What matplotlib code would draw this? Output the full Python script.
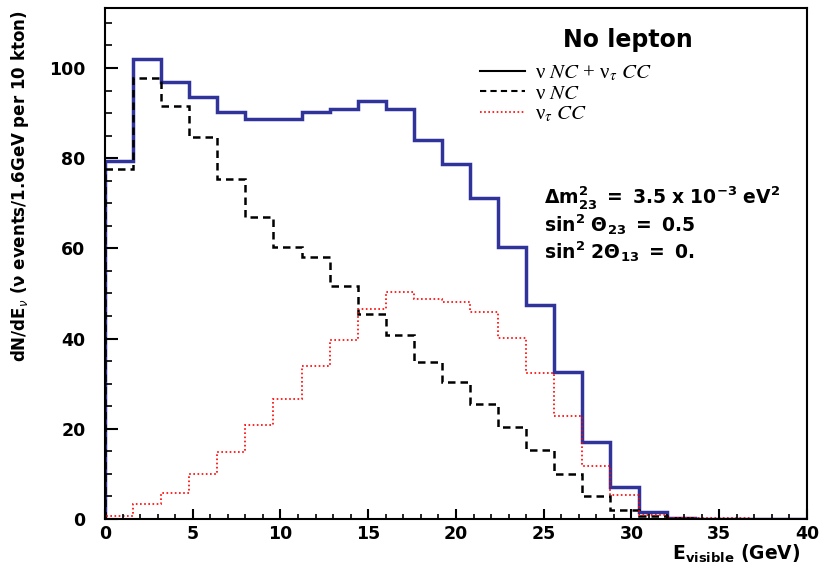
import numpy as np
import matplotlib
matplotlib.use("Agg")
import matplotlib.pyplot as plt
from matplotlib.lines import Line2D
from matplotlib.ticker import MultipleLocator

# bins of 1.6 GeV from 0 to 40 GeV
edges = np.arange(0, 40.01, 1.6)

# nu NC + nu_tau CC (total)
total = [79.4, 102.0, 97.0, 93.6, 90.2, 88.7, 88.7, 90.2, 90.9, 92.7,
         91.0, 84.0, 78.7, 71.2, 60.3, 47.5, 32.7, 17.1, 7.2, 1.5,
         0.2, 0.1, 0.1, 0.0, 0.0]
# nu NC
nc = [77.6, 97.8, 91.6, 84.6, 75.4, 67.0, 60.4, 58.0, 51.7, 45.4,
      40.8, 34.7, 30.3, 25.6, 20.5, 15.4, 9.9, 5.1, 2.1, 0.7,
      0.2, 0.1, 0.0, 0.0, 0.0]
# nu_tau CC
tau_cc = [0.7, 3.3, 5.7, 9.9, 14.8, 20.8, 26.5, 33.9, 39.7, 46.6,
          50.4, 48.8, 48.2, 45.8, 40.1, 32.4, 22.9, 11.8, 5.3, 0.9,
          0.3, 0.2, 0.2, 0.1, 0.1]

labels = [r"ν $\mathit{NC}$ + ν$_{\tau}$ $\mathit{CC}$",
          r"ν $\mathit{NC}$",
          r"ν$_{\tau}$ $\mathit{CC}$"]

params = [r"$\mathbf{\Delta m^{2}_{23}\ =\ 3.5\ x\ 10^{-3}\ eV^{2}}$",
          r"$\mathbf{sin^{2}\ \Theta_{23}\ =\ 0.5}$",
          r"$\mathbf{sin^{2}\ 2\Theta_{13}\ =\ 0.}$"]

plt.rcParams['mathtext.fontset'] = 'stix'

fig = plt.figure(figsize=(8.28, 5.65), dpi=100)
ax = fig.add_axes([105/828, 46/565, 702/828, 511/565])

blue = '#303399'
ax.stairs(total, edges, color=blue, lw=2.5, baseline=0)
ax.stairs(nc, edges, color='black', lw=1.8, ls=(0, (3, 2)), baseline=0)
ax.stairs(tau_cc, edges, color='red', lw=1.2, ls=(0, (1, 1.5)), baseline=0)

ax.set_xlim(0, 40)
ax.set_ylim(0, 113.3)

ax.xaxis.set_major_locator(MultipleLocator(5))
ax.xaxis.set_minor_locator(MultipleLocator(1))
ax.yaxis.set_major_locator(MultipleLocator(20))
ax.yaxis.set_minor_locator(MultipleLocator(5))
ax.tick_params(axis='x', which='major', direction='in', length=7, width=1.5, pad=4.5)
ax.tick_params(axis='x', which='minor', direction='in', length=3.5, width=1.2)
ax.tick_params(axis='y', which='major', direction='in', length=9.5, width=1.5, pad=14)
ax.tick_params(axis='y', which='minor', direction='in', length=5, width=1.2)
for lab in ax.get_xticklabels() + ax.get_yticklabels():
    lab.set_fontweight('bold')
    lab.set_fontsize(12.5)
for sp in ax.spines.values():
    sp.set_linewidth(1.5)

ax.set_ylabel(r"dN/dE$_{\nu}$ (ν events/1.6GeV per 10 kton)",
              fontsize=12, fontweight='bold', math_fontfamily='dejavusans')
ax.yaxis.set_label_coords(-0.105, 0.652)

ax.set_xlabel(r"E$_{\mathbf{visible}}$ (GeV)", fontsize=13.5,
              fontweight='bold', math_fontfamily='dejavusans')
ax.xaxis.set_label_coords(0.99, -0.046)
ax.xaxis.label.set_horizontalalignment('right')
ax.xaxis.label.set_verticalalignment('top')

ax.text(0.745, 0.937, "No lepton", transform=ax.transAxes, fontsize=17,
        fontweight='bold', ha='center', va='center')

handles = [Line2D([], [], color='black', lw=1.5),
           Line2D([], [], color='black', lw=1.5, ls=(0, (3, 2))),
           Line2D([], [], color='red', lw=1.2, ls=(0, (1, 1.5)))]
ax.legend(handles, labels, loc='upper left', bbox_to_anchor=(0.534, 0.892),
          frameon=False, prop={'family': 'Liberation Serif', 'size': 15},
          handlelength=2.15, handletextpad=0.5, labelspacing=0.05,
          borderaxespad=0, borderpad=0)

for i, t in enumerate(params):
    ax.text(0.625, 0.63 - i * 0.053, t, transform=ax.transAxes, fontsize=13.5,
            math_fontfamily='dejavusans', ha='left', va='center')

fig.savefig("out.png", dpi=100)
